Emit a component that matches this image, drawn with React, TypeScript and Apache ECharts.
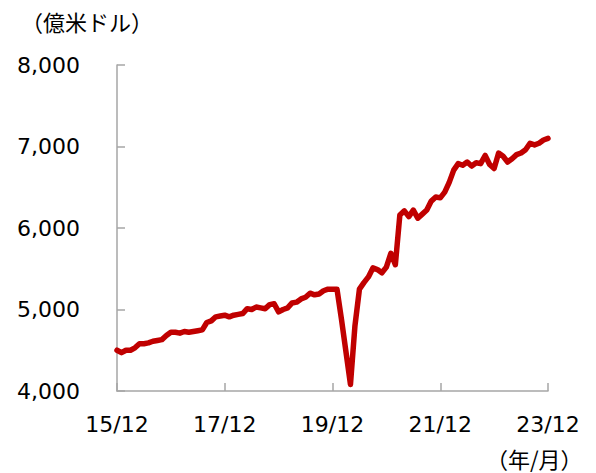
import React, { useEffect, useRef } from "react";
import * as echarts from "echarts";

// Monthly values (億米ドル), 2015/12 .. 2023/12
const values2016: number[] = [4500, 4470, 4500, 4500, 4530, 4580, 4580, 4590, 4610, 4620, 4630, 4680, 4720];
const values2017: number[] = [4720, 4710, 4730, 4720, 4730, 4740, 4750, 4840, 4860, 4910, 4920, 4930];
const values2018: number[] = [4910, 4930, 4940, 4950, 5010, 5000, 5030, 5020, 5010, 5060, 5070, 4970];
const values2019: number[] = [5000, 5020, 5080, 5090, 5130, 5150, 5200, 5180, 5190, 5230, 5250, 5250];
const values2020: number[] = [5250, 4880, 4480, 4080, 4800, 5250, 5330, 5400, 5510, 5490, 5450, 5520];
const values2021: number[] = [5690, 5550, 6160, 6210, 6140, 6220, 6120, 6170, 6220, 6330, 6380, 6370];
const values2022: number[] = [6440, 6560, 6710, 6790, 6770, 6810, 6760, 6800, 6790, 6890, 6780, 6730];
const values2023: number[] = [6920, 6880, 6810, 6850, 6900, 6920, 6960, 7040, 7020, 7040, 7080, 7100];

const startYear = 2015;
const startMonth = 12;
const tickYears: string[] = ["15/12", "17/12", "19/12", "21/12", "23/12"];

const yMin = 4000;
const yMax = 8000;
const yStep = 1000;

const yUnit = "（億米ドル）";
const xUnit = "（年/月）";

export default function App() {
  const ref = useRef<HTMLDivElement>(null);

  useEffect(() => {
    if (!ref.current) return;
    const chart = echarts.init(ref.current, undefined, { renderer: "svg" });

    const values = [
      ...values2016,
      ...values2017,
      ...values2018,
      ...values2019,
      ...values2020,
      ...values2021,
      ...values2022,
      ...values2023,
    ];
    const categories: string[] = values.map((_, i) => {
      const m0 = startMonth - 1 + i;
      const y = startYear + Math.floor(m0 / 12);
      const m = (m0 % 12) + 1;
      return `${String(y % 100).padStart(2, "0")}/${m}`;
    });

    const labelFont = "DejaVu Sans, Verdana, sans-serif";
    const cjkFont = "Noto Sans CJK JP, sans-serif";

    chart.setOption({
      animation: false,
      backgroundColor: "#ffffff",
      grid: { left: 117, right: 48, top: 65, bottom: 82, containLabel: false },
      xAxis: {
        type: "category",
        data: categories,
        boundaryGap: false,
        axisLine: { show: true, lineStyle: { color: "#a6a6a6", width: 1.5 } },
        axisTick: {
          show: true,
          inside: true,
          length: 8,
          interval: (i: number) => i % 24 === 0,
          lineStyle: { color: "#a6a6a6", width: 1.5 },
        },
        axisLabel: {
          interval: (i: number) => i % 24 === 0,
          formatter: (_v: string, i: number) => tickYears[i / 24] ?? "",
          color: "#000000",
          fontSize: 22,
          fontFamily: labelFont,
          margin: 22,
        },
        splitLine: { show: false },
      },
      yAxis: {
        type: "value",
        min: yMin,
        max: yMax,
        interval: yStep,
        axisLine: { show: true, lineStyle: { color: "#a6a6a6", width: 1.5 } },
        axisTick: {
          show: true,
          inside: true,
          length: 8,
          lineStyle: { color: "#a6a6a6", width: 1.5 },
        },
        axisLabel: {
          formatter: (v: number) => v.toLocaleString("en-US"),
          color: "#000000",
          fontSize: 22,
          fontFamily: labelFont,
          margin: 37,
        },
        splitLine: { show: false },
      },
      series: [
        {
          type: "line",
          data: values,
          showSymbol: false,
          symbol: "none",
          lineStyle: { color: "#c00000", width: 5.5, join: "round", cap: "round" },
          itemStyle: { color: "#c00000" },
        },
      ],
      graphic: [
        {
          type: "text",
          left: 21,
          top: 10,
          style: { text: yUnit, fontSize: 22, fontFamily: cjkFont, fill: "#000000" },
        },
        {
          type: "text",
          left: 486,
          top: 447,
          style: { text: xUnit, fontSize: 22, fontFamily: cjkFont, fill: "#000000" },
        },
      ],
    });

    return () => chart.dispose();
  }, []);

  return (
    <div
      ref={ref}
      style={{ position: "absolute", left: 0, top: 0, width: 596, height: 473 }}
    />
  );
}
